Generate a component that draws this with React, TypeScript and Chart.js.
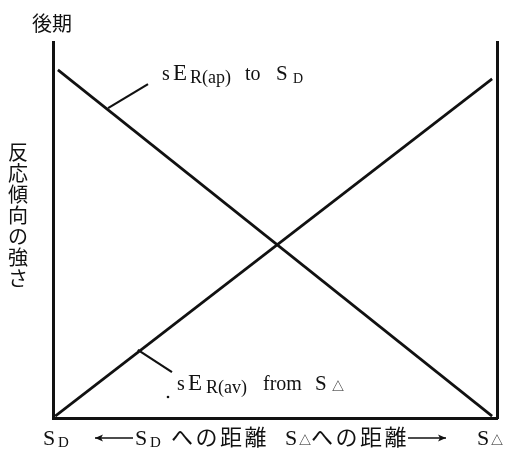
import React, { useEffect, useRef } from "react";
import { Chart, registerables } from "chart.js";

Chart.register(...registerables);

// Normalised data: x = distance position (0 = S_D, 1 = S_△), y = response strength
const apX = [0.011, 0.989];
const apY = [0.926, 0.005];
const avX = [0.005, 0.989];
const avY = [0.005, 0.902];
const leaderApX = [0.124, 0.214];
const leaderApY = [0.824, 0.888];
const leaderAvX = [0.191, 0.268];
const leaderAvY = [0.181, 0.122];

const yTitleTop = "後期";
const yTitleChars = ["反", "応", "傾", "向", "の", "強", "さ"];
const labelAp = ["s", "E", "R(ap)", "to", "S", "D"];
const labelAv = ["s", "E", "R(av)", "from", "S", "△"];
const bottomText = ["へ", "の", "距", "離"];

const SERIF = "'Liberation Serif', 'DejaVu Serif', serif";
const JP = "'Noto Sans CJK JP', sans-serif";

type Seg = { t: string; x: number; size: number; dy?: number; family?: string };

function drawSegs(ctx: CanvasRenderingContext2D, y: number, segs: Seg[]) {
  ctx.textBaseline = "alphabetic";
  ctx.textAlign = "left";
  for (const s of segs) {
    ctx.font = `${s.size}px ${s.family || SERIF}`;
    ctx.fillText(s.t, s.x, y + (s.dy || 0));
  }
}

function drawChars(ctx: CanvasRenderingContext2D, chars: string[], x: number, y: number, step: number, vertical: boolean, size: number) {
  ctx.font = `${size}px ${JP}`;
  ctx.textAlign = "center";
  ctx.textBaseline = "middle";
  chars.forEach((c, i) => {
    if (vertical) ctx.fillText(c, x, y + i * step);
    else ctx.fillText(c, x + i * step, y);
  });
}

function arrow(ctx: CanvasRenderingContext2D, x1: number, x2: number, y: number) {
  ctx.beginPath();
  ctx.moveTo(x1, y);
  ctx.lineTo(x2, y);
  ctx.lineWidth = 1.4;
  ctx.stroke();
  const dir = x2 > x1 ? 1 : -1;
  ctx.beginPath();
  ctx.moveTo(x2, y);
  ctx.lineTo(x2 - dir * 8, y - 3.5);
  ctx.lineTo(x2 - dir * 6, y);
  ctx.lineTo(x2 - dir * 8, y + 3.5);
  ctx.closePath();
  ctx.fill();
}

const textPlugin = {
  id: "textPlugin",
  afterDraw(chart: any) {
    const ctx: CanvasRenderingContext2D = chart.ctx;
    ctx.save();
    ctx.fillStyle = "#111";
    ctx.strokeStyle = "#111";
    // y title
    drawChars(ctx, yTitleTop.split(""), 42, 23, 20, false, 20);
    drawChars(ctx, yTitleChars, 18, 152, 21, true, 20);

    // line labels
    drawSegs(ctx, 80, [
      { t: labelAp[0], x: 162, size: 20 },
      { t: labelAp[1], x: 173, size: 23 },
      { t: labelAp[2], x: 190, size: 18, dy: 3 },
      { t: labelAp[3], x: 245, size: 20 },
      { t: labelAp[4], x: 276, size: 21 },
      { t: labelAp[5], x: 293, size: 14, dy: 3 },
    ]);
    drawSegs(ctx, 390, [
      { t: labelAv[0], x: 177, size: 20 },
      { t: labelAv[1], x: 188, size: 23 },
      { t: labelAv[2], x: 206, size: 18, dy: 3 },
      { t: labelAv[3], x: 263, size: 20 },
      { t: labelAv[4], x: 315, size: 21 },
      { t: labelAv[5], x: 332, size: 12, dy: 1, family: JP },
    ]);
    ctx.beginPath();
    ctx.arc(168, 397, 1.3, 0, Math.PI * 2);
    ctx.fill();

    // bottom labels
    drawSegs(ctx, 445, [
      { t: "S", x: 43, size: 22 },
      { t: "D", x: 58, size: 15, dy: 2 },
      { t: "S", x: 135, size: 22 },
      { t: "D", x: 150, size: 15, dy: 2 },
      { t: "S", x: 285, size: 22 },
      { t: "△", x: 299, size: 12, family: JP },
      { t: "S", x: 477, size: 22 },
      { t: "△", x: 491, size: 12, family: JP },
    ]);
    arrow(ctx, 133, 95, 438);
    arrow(ctx, 408, 446, 438);
    drawChars(ctx, bottomText, 182, 437, 24.5, false, 22);
    drawChars(ctx, bottomText, 322, 437, 24.5, false, 22);
    ctx.restore();
  },
};

export default function App() {
  const ref = useRef<HTMLCanvasElement>(null);
  useEffect(() => {
    if (!ref.current) return;
    const mk = (xs: number[], ys: number[]) => xs.map((x, i) => ({ x, y: ys[i] }));
    const line = (data: any, w: number) => ({
      data,
      borderColor: "#111",
      borderWidth: w,
      pointRadius: 0,
      fill: false,
      tension: 0,
      clip: false as any,
    });
    const axisOpts = (extra: any) => ({
      type: "linear",
      min: 0,
      max: 1,
      grid: { display: false, drawTicks: false },
      ticks: { display: false },
      border: { display: true, color: "#111", width: 3 },
      ...extra,
    });
    const chart = new Chart(ref.current, {
      type: "line",
      data: {
        datasets: [
          line(mk(apX, apY), 2.7),
          line(mk(avX, avY), 2.7),
          line(mk(leaderApX, leaderApY), 2.2),
          line(mk(leaderAvX, leaderAvY), 2.2),
        ],
      },
      options: {
        responsive: false,
        animation: false,
        layout: { padding: { left: 53, right: 14, top: 42, bottom: 36 } },
        plugins: { legend: { display: false }, tooltip: { enabled: false } },
        scales: {
          x: axisOpts({ position: "bottom", afterFit: (s: any) => { s.height = 0; } }),
          y: axisOpts({ position: "left", afterFit: (s: any) => { s.width = 0; } }),
          yR: axisOpts({ position: "right", afterFit: (s: any) => { s.width = 0; } }),
        },
      } as any,
      plugins: [textPlugin],
    });
    return () => chart.destroy();
  }, []);
  return (
    <div style={{ position: "fixed", left: 0, top: 0, width: 511, height: 454, background: "#fff" }}>
      <canvas ref={ref} width={511} height={454} />
    </div>
  );
}
